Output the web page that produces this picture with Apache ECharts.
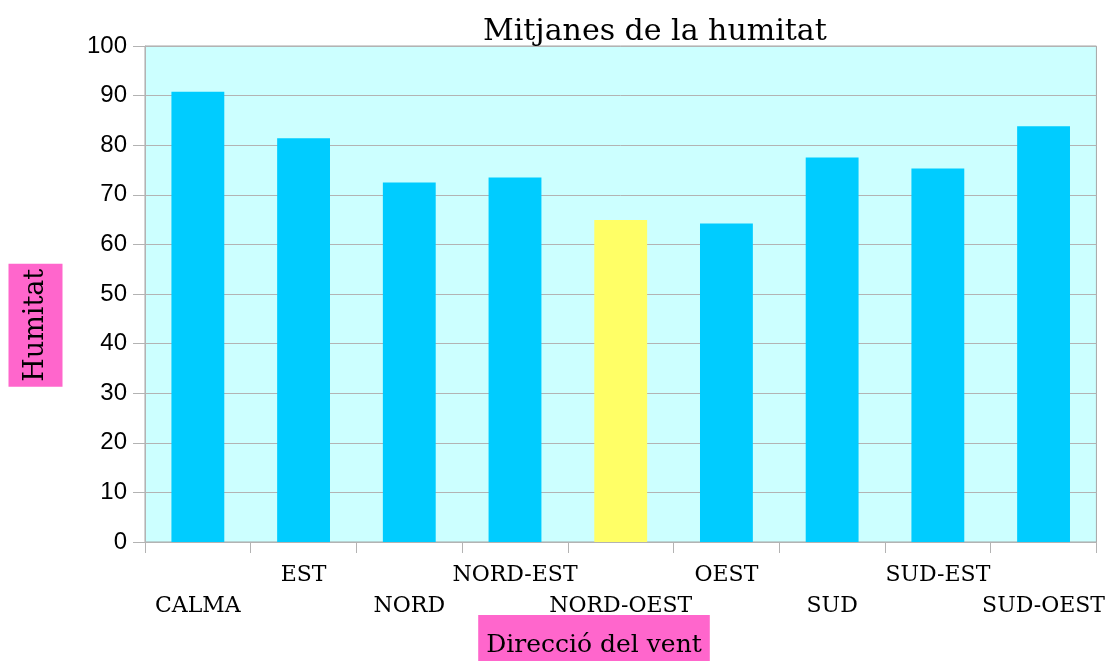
<!DOCTYPE html>
<html>
<head>
<meta charset="utf-8">
<title>Mitjanes de la humitat</title>
<script src="https://cdn.jsdelivr.net/npm/echarts@6/dist/echarts.min.js"></script>
<style>
  html, body { margin: 0; padding: 0; background: #fff; }
  #humitat { width: 1108px; height: 661px; }
</style>
</head>
<body>
<div id="humitat"></div>
<script>
// dades llegides del gràfic
const categories = ['CALMA', 'EST', 'NORD', 'NORD-EST', 'NORD-OEST', 'OEST', 'SUD', 'SUD-EST', 'SUD-OEST'];
const mitjanes = [90.8, 81.4, 72.5, 73.5, 64.9, 64.2, 77.5, 75.3, 83.8];
const barColors = ['#00ccff', '#00ccff', '#00ccff', '#00ccff', '#ffff66', '#00ccff', '#00ccff', '#00ccff', '#00ccff'];
const yTicks = [0, 10, 20, 30, 40, 50, 60, 70, 80, 90, 100];

const serif = "'DejaVu Serif', 'Liberation Serif', serif";
const sans = "'Liberation Sans', Arial, sans-serif";

const humitatOption = () => {
    return {
        animation: false,
        title: {
            text: 'Mitjanes de la humitat',
            left: 483,
            top: 17,
            padding: 0,
            textStyle: {
                fontFamily: serif,
                fontWeight: 'normal',
                fontSize: 30,
                color: '#000'
            }
        },
        grid: {
            left: 145,
            right: 11,
            top: 46,
            bottom: 119,
            show: true,
            backgroundColor: '#ccffff',
            borderColor: '#a6a6a6',
            borderWidth: 1
        },
        xAxis: {
            type: 'category',
            data: categories,
            axisLine: { lineStyle: { color: '#b3b3b3', width: 1 } },
            axisTick: { show: true, length: 11, lineStyle: { color: '#b3b3b3' } },
            axisLabel: {
                interval: 0,
                margin: 18,
                fontFamily: serif,
                fontSize: 22,
                lineHeight: 31,
                color: '#000',
                verticalAlign: 'top',
                // etiquetes alternades en dues files
                formatter: (v, i) => (i % 2 === 0 ? '\n' + v : v)
            }
        },
        yAxis: {
            type: 'value',
            min: yTicks[0],
            max: yTicks[yTicks.length - 1],
            interval: yTicks[1] - yTicks[0],
            axisLine: { show: true, lineStyle: { color: '#b3b3b3' } },
            axisTick: { show: true, length: 12, lineStyle: { color: '#b3b3b3' } },
            axisLabel: {
                margin: 18,
                fontFamily: sans,
                fontSize: 24,
                color: '#000'
            },
            splitLine: { show: true, lineStyle: { color: '#b3b3b3', width: 1 } }
        },
        graphic: [
            {
                type: 'text',
                x: 35.5,
                y: 325.3,
                rotation: Math.PI / 2,
                style: {
                    text: 'Humitat',
                    font: "27px 'DejaVu Serif', serif",
                    fill: '#000',
                    align: 'center',
                    verticalAlign: 'middle',
                    backgroundColor: '#ff66cc',
                    padding: [11, 5, 11, 5],
                    lineHeight: 32
                }
            },
            {
                type: 'text',
                x: 594,
                y: 615,
                style: {
                    text: 'Direcció del vent',
                    font: "25px 'DejaVu Serif', serif",
                    fill: '#000',
                    align: 'center',
                    verticalAlign: 'top',
                    backgroundColor: '#ff66cc',
                    padding: [15, 8, 10, 8],
                    lineHeight: 30
                }
            }
        ],
        series: [
            {
                type: 'bar',
                barWidth: '50%',
                data: mitjanes.map((v, i) => ({ value: v, itemStyle: { color: barColors[i] } }))
            }
        ]
    };
};

const chart = echarts.init(document.getElementById('humitat'));
chart.setOption(humitatOption());
window.addEventListener('resize', () => { chart.resize() });
</script>
</body>
</html>
